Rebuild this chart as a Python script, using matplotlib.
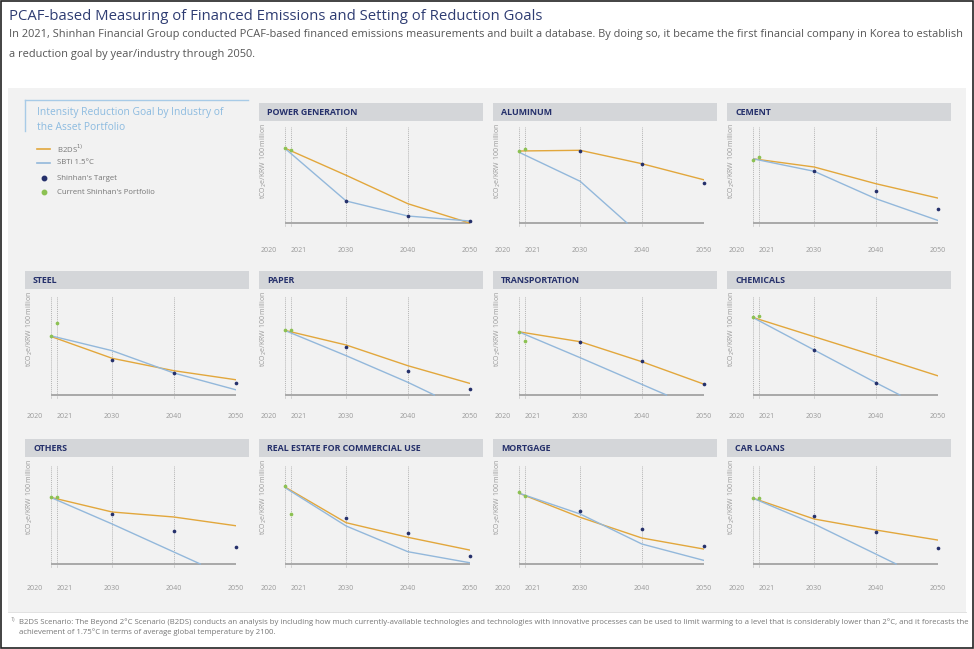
import matplotlib
matplotlib.use("Agg")
import matplotlib.pyplot as plt
from matplotlib.patches import Rectangle
from matplotlib.lines import Line2D

plt.rcParams['font.family'] = ['Open Sans', 'DejaVu Sans']

W, H = 974, 649

# ---------------- data (index units above the zero baseline) ----------------
sectors = ["POWER GENERATION", "ALUMINUM", "CEMENT",
           "STEEL", "PAPER", "TRANSPORTATION", "CHEMICALS",
           "OTHERS", "REAL ESTATE FOR COMMERCIAL USE", "MORTGAGE", "CAR LOANS"]
grid_years = [2020, 2021, 2030, 2040, 2050]
year_labels = ["2020", "2021", "2030", "2040", "2050"]

current_years = [2020, 2021]
current_vals = [[75, 72.7], [71.7, 73.7], [63.3, 66], [58.7, 72], [64.7, 65],
                [63.3, 54.3], [77.7, 79.3], [66.7, 67], [78, 50], [71.7, 67.7],
                [66, 66]]

b2ds_years = [2020, 2030, 2040, 2050]
b2ds_vals = [[75, 47.7, 19.3, 0], [72, 72.7, 59.3, 43.3], [64.3, 56, 39.3, 25],
             [58.7, 36.7, 24.3, 15.3], [64.7, 50, 29.3, 11.7], [63.3, 53.3, 33.3, 11],
             [77.7, 58.3, 39, 19.3], [66.7, 52, 47, 38.3], [77.3, 41.3, 26.7, 14],
             [71, 46.7, 26, 15], [66, 45, 34, 24]]

sbti_years = [[2020, 2030, 2040, 2050], [2020, 2030, 2037.6], [2020, 2030, 2040, 2050],
              [2020, 2030, 2040, 2050], [2020, 2030, 2040, 2044.3], [2020, 2030, 2044],
              [2020, 2030, 2040, 2043.9], [2020, 2030, 2044.3], [2020, 2030, 2040, 2050],
              [2020, 2030, 2040, 2050], [2020, 2030, 2043.3]]
sbti_vals = [[75, 22, 7, 2], [71, 41.7, 0], [64.3, 51.7, 24.3, 2.7],
             [59.3, 44.3, 22, 5.3], [64.7, 39.3, 12.7, 0], [63.3, 37.3, 0],
             [77.7, 45, 12.3, 0], [66.7, 40, 0], [76.7, 38, 12.3, 1.3],
             [71, 50, 20, 3.7], [66, 40, 0]]

target_years = [2030, 2040, 2050]
target_vals = [[22, 7, 2], [72, 58.7, 40.3], [51.7, 31.7, 13.7],
               [35, 22, 12], [47.7, 24, 6], [53, 33.7, 11],
               [45, 12.3, None], [50.3, 33.3, 17], [46.3, 30.7, 8.3],
               [53.3, 35.3, 17.7], [48, 32, 16]]

title = "PCAF-based Measuring of Financed Emissions and Setting of Reduction Goals"
subtitle1 = ("In 2021, Shinhan Financial Group conducted PCAF-based financed emissions measurements and built a database. "
             "By doing so, it became the first financial company in Korea to establish")
subtitle2 = "a reduction goal by year/industry through 2050."
legend_title = ["Intensity Reduction Goal by Industry of", "the Asset Portfolio"]
legend_labels = ["B2DS$^{1)}$", "SBTi 1.5\u00b0C", "Shinhan's Target", "Current Shinhan's Portfolio"]
ylabel = "tCO$_2$e/KRW 100 million"
footnote1 = ("B2DS Scenario: The Beyond 2\u00b0C Scenario (B2DS) conducts an analysis by including how much currently-available "
             "technologies and technologies with innovative processes can be used to limit warming to a level that is considerably lower than 2\u00b0C, and it forecasts the")
footnote2 = "achievement of 1.75\u00b0C in terms of average global temperature by 2100."

# ---------------- styles ----------------
C_ORANGE = "#e2a73c"
C_BLUE = "#93b8db"
C_NAVY = "#25306b"
C_GREEN = "#8cc152"
C_HEADER = "#d4d6d9"
C_BG = "#f2f2f2"

fig = plt.figure(figsize=(W / 100, H / 100), dpi=100)
fig.patch.set_facecolor("white")


def fx(x):
    return x / W


def fy(y):
    return 1 - y / H


def rect(x0, y0, x1, y1, **kw):
    fig.patches.append(Rectangle((fx(x0), fy(y1)), (x1 - x0) / W, (y1 - y0) / H,
                                 transform=fig.transFigure, figure=fig, **kw))


# background panel and outer frame
rect(8, 88, 966, 612, facecolor=C_BG, edgecolor="none", zorder=0)
rect(1, 1, 973, 648, facecolor="none", edgecolor="#222222", linewidth=1.2, zorder=10)

fig.text(fx(9), fy(16), title, fontsize=10.7, color="#2e3c72", va="center", ha="left")
fig.text(fx(9), fy(35), subtitle1, fontsize=7.9, color="#555555", va="center", ha="left")
fig.text(fx(9), fy(54), subtitle2, fontsize=7.9, color="#555555", va="center", ha="left")

# legend box
fig.add_artist(Line2D([fx(25), fx(248)], [fy(100), fy(100)], color="#a8cbe7", lw=1.0))
fig.add_artist(Line2D([fx(25), fx(25)], [fy(100), fy(131)], color="#a8cbe7", lw=1.0))
fig.text(fx(37), fy(113), legend_title[0], fontsize=7.4, color="#8cbbe0", va="center")
fig.text(fx(37), fy(127), legend_title[1], fontsize=7.4, color="#8cbbe0", va="center")
leg_y = [149, 163, 178, 192]
fig.add_artist(Line2D([fx(37), fx(50)], [fy(leg_y[0])] * 2, color=C_ORANGE, lw=1.2))
fig.add_artist(Line2D([fx(37), fx(50)], [fy(leg_y[1])] * 2, color=C_BLUE, lw=1.2))
fig.add_artist(Line2D([fx(43.5)], [fy(leg_y[2])], marker="o", ms=3.2, color=C_NAVY, lw=0))
fig.add_artist(Line2D([fx(43.5)], [fy(leg_y[3])], marker="o", ms=3.2, color=C_GREEN, lw=0))
for yy, lab in zip(leg_y, legend_labels):
    fig.text(fx(57), fy(yy), lab, fontsize=5.6, color="#777777", va="center")

# grid geometry (pixels)
col_left = [25, 259, 493, 727]
header_top = [103, 271, 439]
header_h = 18
grid_top = [127, 296, 466]
base_y = [223, 395, 564]
label_y = [250, 417, 588]

positions = [(0, 1), (0, 2), (0, 3),
             (1, 0), (1, 1), (1, 2), (1, 3),
             (2, 0), (2, 1), (2, 2), (2, 3)]

for i, (r, c) in enumerate(positions):
    left = col_left[c]
    rect(left, header_top[r], left + 224, header_top[r] + header_h,
         facecolor=C_HEADER, edgecolor="none", zorder=1)
    fig.text(fx(left + 8), fy(header_top[r] + header_h / 2 + 0.5), sectors[i],
             fontsize=6.4, fontweight="bold", color=C_NAVY, va="center", ha="left", zorder=2)

    x0, x1 = left + 25.5, left + 210.5
    top, base = grid_top[r], base_y[r]
    bottom = base + 4
    ax = fig.add_axes([fx(x0), fy(bottom), (x1 - x0) / W, (bottom - top) / H])
    ax.set_zorder(3)
    ax.set_xlim(2020, 2050)
    ax.set_ylim(-(bottom - base), base - top)
    ax.axis("off")
    ax.patch.set_alpha(0)

    for gy in grid_years:
        ax.axvline(gy, color="#b5b5b5", lw=0.7, ls=(0, (1, 1)), zorder=1)
    ax.plot([2020, 2050], [0, 0], color="#a9a9a9", lw=1.4, zorder=2, solid_capstyle="butt")

    ax.plot(b2ds_years, b2ds_vals[i], color=C_ORANGE, lw=1.0, zorder=3)
    ax.plot(sbti_years[i], sbti_vals[i], color=C_BLUE, lw=1.0, zorder=4)
    ty = [y for y, v in zip(target_years, target_vals[i]) if v is not None]
    tv = [v for v in target_vals[i] if v is not None]
    ax.scatter(ty, tv, s=7, color=C_NAVY, zorder=5, clip_on=False, linewidths=0)
    ax.scatter(current_years, current_vals[i], s=7, color=C_GREEN, zorder=6,
               clip_on=False, linewidths=0)

    # year labels
    for gy, lab in zip(grid_years, year_labels):
        if gy == 2020:
            xx, ha = fx(x0 - 8), "right"
        elif gy == 2021:
            xx, ha = fx(x0 + (x1 - x0) / 30 * 1), "left"
        else:
            xx, ha = fx(x0 + (x1 - x0) / 30 * (gy - 2020)), "center"
        fig.text(xx, fy(label_y[r]), lab, fontsize=5.0, color="#9a9a9a", ha=ha, va="center")

    fig.text(fx(left + 5), fy(header_top[r] + header_h + 2), ylabel, rotation=90,
             fontsize=5.0, color="#9a9a9a", ha="center", va="top")

# footnote
fig.add_artist(Line2D([fx(8), fx(966)], [fy(612), fy(612)], color="#dddddd", lw=0.6))
fig.text(fx(11), fy(620), "1)", fontsize=3.8, color="#888888", va="center")
fig.text(fx(19), fy(622), footnote1, fontsize=5.55, color="#777777", va="center")
fig.text(fx(19), fy(632), footnote2, fontsize=5.55, color="#777777", va="center")

fig.savefig("out.png", dpi=100, facecolor="white")
